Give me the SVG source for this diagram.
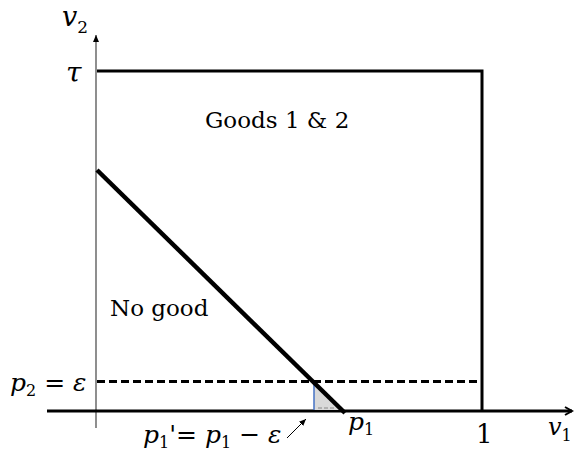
<svg xmlns="http://www.w3.org/2000/svg" width="574" height="458" viewBox="0 0 574 458">
<style>
.t{font-family:"DejaVu Serif","Liberation Serif","Times New Roman",serif;fill:#000}
.i{font-style:italic}
.thick{stroke:#000;stroke-width:3;fill:none}
</style>
<defs>
<marker id="ah" markerWidth="10" markerHeight="10" refX="8" refY="5" orient="auto" markerUnits="userSpaceOnUse">
<path d="M1,1 L8,5 L1,9" fill="none" stroke="#000" stroke-width="2"/>
</marker>
<marker id="ah2" markerWidth="8" markerHeight="8" refX="7" refY="4" orient="auto" markerUnits="userSpaceOnUse">
<path d="M0,1 L7,4 L0,7 Z" fill="#000"/>
</marker>
</defs>
<rect width="574" height="458" fill="#fff"/>
<g id="connectors">
<line x1="96" y1="428" x2="96" y2="35" stroke="#444" stroke-width="1.2" marker-end="url(#ah2)"/>
<line x1="47" y1="411" x2="572" y2="411" class="thick" marker-end="url(#ah)"/>
<polyline points="97,71 482,71 482,411" class="thick"/>
<line x1="97" y1="381.5" x2="482" y2="381.5" stroke="#000" stroke-width="3" stroke-dasharray="8,4"/>
<polygon points="314,382 314,410 343,410" fill="#d9d9d9"/>
<line x1="318" y1="408" x2="336" y2="408" stroke="#888" stroke-width="1" stroke-dasharray="4,2"/>
<line x1="314" y1="381" x2="314" y2="410" stroke="#4472c4" stroke-width="1.5"/>
<line x1="97" y1="170" x2="345" y2="413" stroke="#000" stroke-width="4.5"/>
<line x1="287" y1="438" x2="306" y2="419" stroke="#000" stroke-width="1" marker-end="url(#ah2)"/>
</g>
<g id="labels">
<text class="t i" x="62" y="26" font-size="27">v<tspan font-size="17" font-style="normal" dy="7">2</tspan></text>
<text class="t i" x="66" y="82" font-size="28">τ</text>
<text id="goods" class="t" x="205" y="128" font-size="23">Goods 1 &amp; 2</text>
<text id="nogood" class="t" x="110" y="316" font-size="23">No good</text>
<text class="t" x="10" y="391" font-size="25"><tspan font-style="italic">p</tspan><tspan font-size="16" dy="5">2</tspan><tspan dy="-5"> = </tspan><tspan font-style="italic">ε</tspan></text>
<text class="t" x="143" y="443" font-size="25"><tspan font-style="italic">p</tspan><tspan font-size="16" dy="5">1</tspan><tspan dy="-5">'= </tspan><tspan font-style="italic">p</tspan><tspan font-size="16" dy="5">1</tspan><tspan dy="-5"> − </tspan><tspan font-style="italic">ε</tspan></text>
<text class="t" x="348" y="430" font-size="25"><tspan font-style="italic">p</tspan><tspan font-size="16" dy="5">1</tspan></text>
<text class="t" x="476" y="443" font-size="26">1</text>
<text class="t i" x="548" y="435" font-size="24">v<tspan font-size="16" font-style="normal" dy="6">1</tspan></text>
</g>
</svg>
